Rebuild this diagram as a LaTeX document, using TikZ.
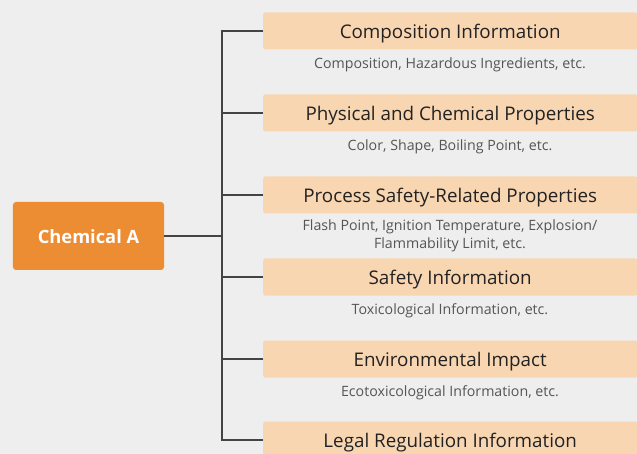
\documentclass[tikz,border=0pt]{standalone}
\usepackage{fontspec}
\setmainfont{Open Sans}
\definecolor{bg}{HTML}{EEEEEE}
\definecolor{mainor}{HTML}{EC8C33}
\definecolor{lightor}{HTML}{F9D6B2}
\definecolor{linec}{HTML}{444444}
\definecolor{titlec}{HTML}{222222}
\definecolor{subc}{HTML}{555555}
\tikzset{
  catbox/.style={fill=lightor, rounded corners=2bp, minimum width=374bp, minimum height=37bp, anchor=west, inner sep=0pt},
  cattext/.style={font=\fontsize{18.8bp}{22bp}\selectfont, text=titlec, inner sep=0pt, anchor=base},
  sublabel/.style={font=\fontsize{14.2bp}{18bp}\selectfont, text=subc, align=center, inner sep=0pt, anchor=base},
  conn/.style={draw=linec, line width=1.2bp},
}
\begin{document}
\begin{tikzpicture}[x=1bp,y=-1bp]
\fill[bg] (0,0) rectangle (637,454);
\useasboundingbox (0,0) rectangle (637,454);
\node[fill=mainor, rounded corners=3bp, minimum width=151bp, minimum height=68bp, inner sep=0pt] (chem) at (88.5,236) {};
\node[text=white, font=\bfseries\fontsize{18.3bp}{22bp}\selectfont, inner sep=0pt, anchor=base] (chemt) at (88.5,244) {Chemical A};
\coordinate (spine) at (222,236);
\node[catbox] (c1) at (263,31) {};
\node[catbox] (c2) at (263,113) {};
\node[catbox] (c3) at (263,195) {};
\node[catbox] (c4) at (263,277) {};
\node[catbox] (c5) at (263,359) {};
\node[catbox] (c6) at (263,440) {};
\node[cattext] (t1) at ([yshift=-7.5bp]c1.center) {Composition Information};
\node[cattext] (t2) at ([yshift=-7.5bp]c2.center) {Physical and Chemical Properties};
\node[cattext] (t3) at ([yshift=-7.5bp]c3.center) {Process Safety-Related Properties};
\node[cattext] (t4) at ([yshift=-7.5bp]c4.center) {Safety Information};
\node[cattext] (t5) at ([yshift=-7.5bp]c5.center) {Environmental Impact};
\node[cattext] (t6) at ([yshift=-7.5bp]c6.center) {Legal Regulation Information};
\node[sublabel] (s1) at (450,68.5) {Composition, Hazardous Ingredients, etc.};
\node[sublabel] (s2) at (450,150.5) {Color, Shape, Boiling Point, etc.};
\node[sublabel] (s3) at (450,249) {Flash Point, Ignition Temperature, Explosion/\\Flammability Limit, etc.};
\node[sublabel] (s4) at (450,314.5) {Toxicological Information, etc.};
\node[sublabel] (s5) at (450,396.5) {Ecotoxicological Information, etc.};
\draw[conn] (chem.east) -- (spine);
\draw[conn] (c1.west) -| (spine) |- (c6.west);
\foreach \i in {2,3,4,5} \draw[conn] (c\i.west) -- (spine |- c\i.west);
\end{tikzpicture}
\end{document}
